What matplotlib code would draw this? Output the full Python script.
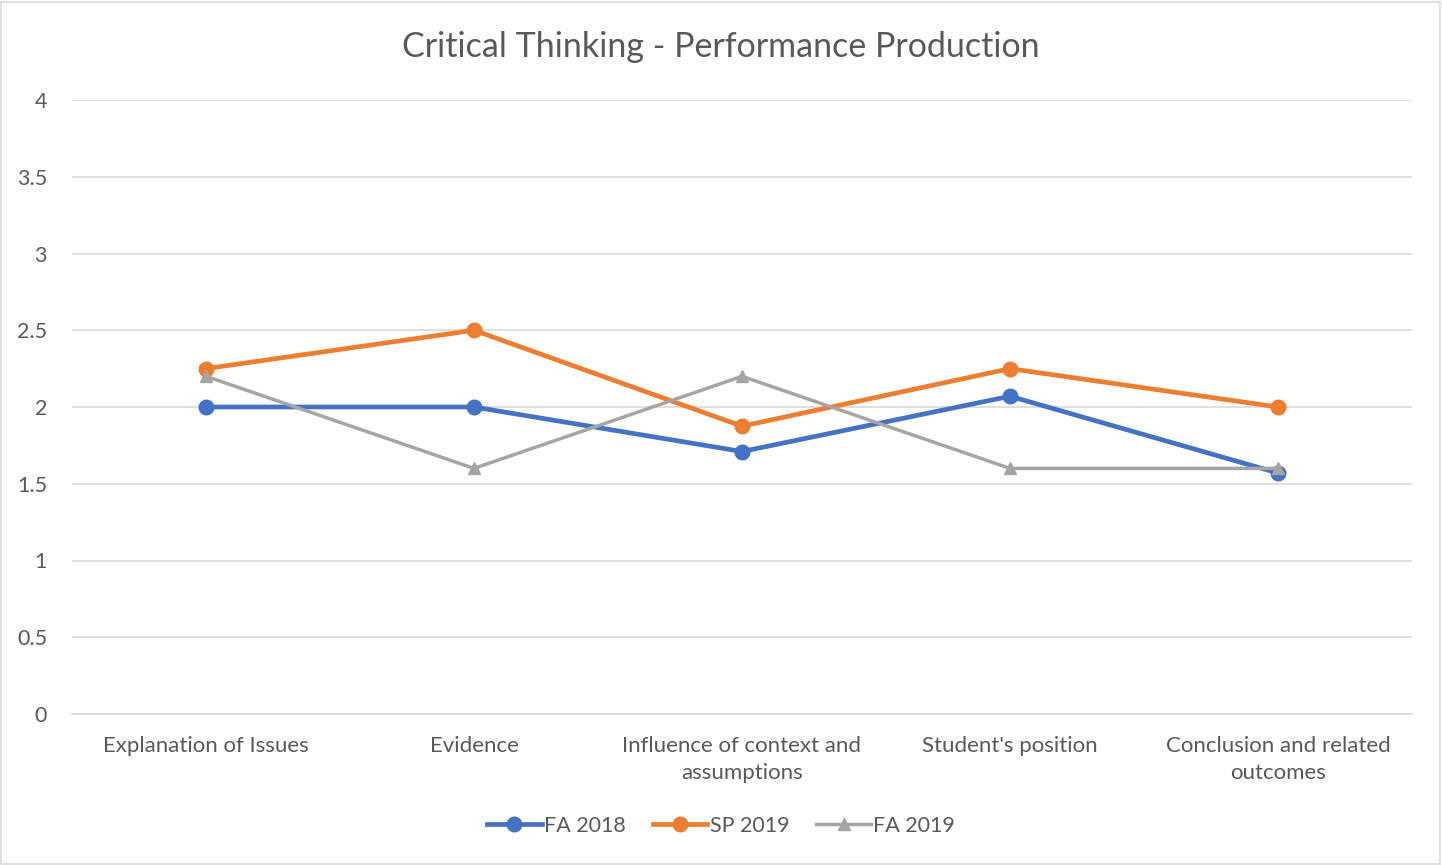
import matplotlib
matplotlib.use("Agg")
import matplotlib.pyplot as plt
from matplotlib.patches import Rectangle

categories = ["Explanation of Issues", "Evidence", "Influence of context and\nassumptions",
              "Student's position", "Conclusion and related\noutcomes"]
fa2018 = [2.0, 2.0, 1.71, 2.07, 1.57]
sp2019 = [2.25, 2.5, 1.875, 2.25, 2.0]
fa2019 = [2.2, 1.6, 2.2, 1.6, 1.6]
yticks = [0, 0.5, 1, 1.5, 2, 2.5, 3, 3.5, 4]
ytick_labels = ["0", "0.5", "1", "1.5", "2", "2.5", "3", "3.5", "4"]

plt.rcParams['font.family'] = ['Lato', 'DejaVu Sans']
txt = '#595959'

fig = plt.figure(figsize=(14.42, 8.65), dpi=100)
ax = fig.add_axes([72/1442, 1-714/865, 1340/1442, 614/865])
fig.patches.append(Rectangle((1/1442, 1/865), 1 - 3/1442, 1 - 3/865, transform=fig.transFigure,
                             fill=False, edgecolor='#d9d9d9', linewidth=1.2))

x = list(range(len(categories)))
ax.plot(x, fa2018, color='#4472C4', linewidth=3.4, marker='o', markersize=10.5, label='FA 2018', zorder=3)
ax.plot(x, sp2019, color='#ED7D31', linewidth=3.4, marker='o', markersize=10.5, label='SP 2019', zorder=3)
ax.plot(x, fa2019, color='#A5A5A5', linewidth=2.5, marker='^', markersize=9, label='FA 2019', zorder=4)

ax.set_xlim(-0.5, 4.5)
ax.set_ylim(0, 4)
ax.set_yticks(yticks)
ax.set_yticklabels(ytick_labels)
ax.set_xticks(x)
ax.set_xticklabels(categories, linespacing=1.4, fontsize=16)
ax.grid(axis='y', color='#d9d9d9', linewidth=1.2)
ax.set_axisbelow(True)
for s in ['top', 'right', 'left']:
    ax.spines[s].set_visible(False)
ax.spines['bottom'].set_color('#d9d9d9')
ax.spines['bottom'].set_linewidth(1.2)
ax.tick_params(axis='y', length=0, labelsize=15.5, colors=txt, pad=18)
ax.tick_params(axis='x', length=0, colors=txt, pad=16)

fig.text(0.5, 1-47/865, "Critical Thinking - Performance Production", ha='center', va='center',
         fontsize=24.5, color=txt)

fig.legend(loc='center', bbox_to_anchor=(0.5, 1-826/865), ncol=3, frameon=False,
           fontsize=15.5, labelcolor=txt, handlelength=2.55, handletextpad=0.1, columnspacing=1.25)

fig.savefig('out.png', dpi=100)
